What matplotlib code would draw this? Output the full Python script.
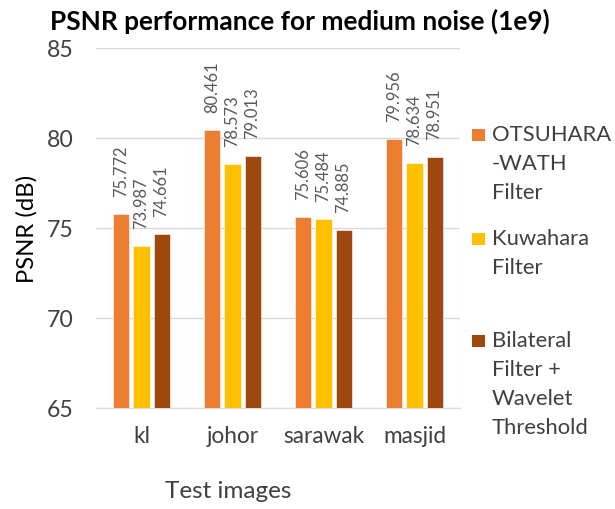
import matplotlib
matplotlib.use("Agg")
import matplotlib.pyplot as plt
from matplotlib.patches import Rectangle
from matplotlib.textpath import TextPath
from matplotlib.font_manager import FontProperties
import numpy as np

categories = ["kl", "johor", "sarawak", "masjid"]
series_names = [["OTSUHARA", "-WATH", "Filter"],
                ["Kuwahara", "Filter"],
                ["Bilateral", "Filter +", "Wavelet", "Threshold"]]
otsuhara = [75.772, 80.461, 75.606, 79.956]
kuwahara = [73.987, 78.573, 75.484, 78.634]
bilateral = [74.661, 79.013, 74.885, 78.951]
y_ticks = [65, 70, 75, 80, 85]

colors = ["#ED7D31", "#FFC000", "#9E480E"]
FONT = ["Lato", "DejaVu Sans"]
plt.rcParams['font.family'] = FONT
DPI = 100
W, H = 615, 510


def fit(text, px, weight="normal"):
    w = TextPath((0, 0), text, size=100,
                 prop=FontProperties(family="Lato", weight=weight)).get_extents().width
    return 100 * px / (w * DPI / 72)


fs_title = fit("PSNR performance for medium noise (1e9)", 495, "bold")
fs_xtick = fit("sarawak", 80)
fs_ytick = fit("85", 24)
fs_ylab = fit("PSNR (dB)", 105)
fs_xlab = fit("Test images", 125)
fs_leg = fit("Threshold", 95)
fs_dl = fit("80.461", 50)

fig = plt.figure(figsize=(W / DPI, H / DPI), dpi=DPI)
ax = fig.add_axes([96 / W, 1 - 409 / H, 364 / W, 360 / H])

x = np.arange(len(categories))
width = 0.176
step = 0.22
for i, vals in enumerate([otsuhara, kuwahara, bilateral]):
    pos = x + (i - 1) * step
    ax.bar(pos, np.array(vals) - 65, width=width, bottom=65, color=colors[i],
           edgecolor="white", linewidth=0.4, zorder=3)
    for p, v in zip(pos, vals):
        ax.annotate(f"{v:.3f}", xy=(p, v), xytext=(0, 18), textcoords="offset pixels",
                    rotation=90, ha="center", va="bottom", fontsize=fs_dl, color="#595959")

ax.set_xlim(-0.5, 3.5)
ax.set_ylim(65, 85)
ax.set_yticks(y_ticks)
ax.set_xticks(x)
ax.set_xticklabels(categories)
ax.grid(axis="y", color="#D9D9D9", linewidth=1, zorder=0)
for s in ["top", "right", "left"]:
    ax.spines[s].set_visible(False)
ax.spines["bottom"].set_color("#D9D9D9")
ax.tick_params(axis="both", length=0, colors="#404040")
ax.tick_params(axis="y", labelsize=fs_ytick, pad=22 * 72 / DPI)
ax.tick_params(axis="x", labelsize=fs_xtick, pad=17 * 72 / DPI)

fig.text(27 / W, 1 - 229 / H, "PSNR (dB)", rotation=90, ha="center", va="center",
         fontsize=fs_ylab, color="#000000")
fig.text(228 / W, 1 - 498 / H, "Test images", ha="center", va="baseline",
         fontsize=fs_xlab, color="#404040")

fig.text(300 / W, 1 - 30 / H, "PSNR performance for medium noise (1e9)", ha="center",
         va="baseline", fontsize=fs_title, fontweight="bold", color="#000000")

legend_base = [141, 245, 347]
line_gap = 28.9
for i, (lines, yb) in enumerate(zip(series_names, legend_base)):
    fig.patches.append(Rectangle((472 / W, 1 - (yb + 1) / H), 13 / W, 12 / H,
                                 transform=fig.transFigure, facecolor=colors[i],
                                 edgecolor="none"))
    for k, line in enumerate(lines):
        fig.text(492 / W, 1 - (yb + k * line_gap) / H, line, ha="left", va="baseline",
                 fontsize=fs_leg, color="#404040")

fig.savefig("out.png", dpi=DPI)
